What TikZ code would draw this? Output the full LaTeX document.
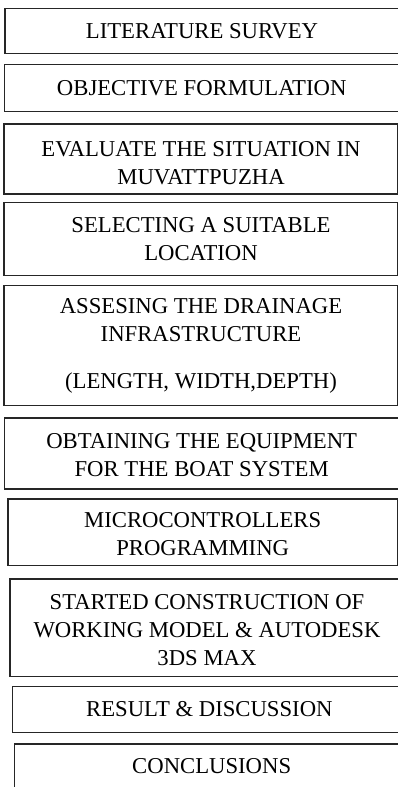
\documentclass[tikz,border=0pt]{standalone}
\usepackage{fontspec}
\setmainfont{Liberation Serif}
\usetikzlibrary{positioning}

\tikzset{
  stage/.style={draw=black!85, line width=1.4pt, anchor=north west,
    minimum width=394pt, inner sep=0pt, align=center,
    font=\fontsize{22.7}{28}\selectfont}
}

\begin{document}
\begin{tikzpicture}[x=1pt, y=-1pt]

  % page frame, boxes run off the right edge
  \useasboundingbox (0,0) rectangle (398,787);
  \clip (0,0) rectangle (398,787);

  % Stage 1 and 2
  \node[stage, minimum height=45pt] (lit) at (4.3,8) {LITERATURE SURVEY};
  \node[stage, minimum height=47.5pt] (obj) at (4,63.5) {OBJECTIVE FORMULATION};

  % Stage 3 and 4: site study
  \node[stage, minimum height=70pt] (eval) at (3.3,123.3)
    {\rule{0pt}{23pt}EVALUATE THE SITUATION IN\\MUVATTPUZHA};
  \node[stage, minimum height=73.3pt] (site) at (3.3,201.7)
    {SELECTING A SUITABLE\\LOCATION};

  % Stage 5: drainage dimensions
  \node[stage, minimum height=120pt] (drain) at (3.3,285)
    {ASSESING THE DRAINAGE\\INFRASTRUCTURE\\[19pt](LENGTH, WIDTH,DEPTH)};

  % Stage 6 and 7: hardware
  \node[stage, minimum height=71pt] (equip) at (4,417.3)
    {\rule{0pt}{18pt}OBTAINING THE EQUIPMENT\\FOR THE BOAT SYSTEM};
  \node[stage, minimum height=66.7pt, minimum width=389.4pt] (mcu) at (7.3,498.3)
    {\rule{0pt}{18pt}MICROCONTROLLERS\\PROGRAMMING};

  % Stage 8: model building
  \node[stage, minimum height=97.7pt] (build) at (9.3,578.3)
    {\rule{0pt}{19pt}STARTED CONSTRUCTION OF\\WORKING MODEL \& AUTODESK\\3DS MAX};

  % Stage 9 and 10
  \node[stage, minimum height=45.7pt] (result) at (11.7,686) {RESULT \& DISCUSSION};
  \node[stage, minimum height=60pt, text depth=16pt] (concl) at (14,743.3) {CONCLUSIONS};

\end{tikzpicture}
\end{document}
